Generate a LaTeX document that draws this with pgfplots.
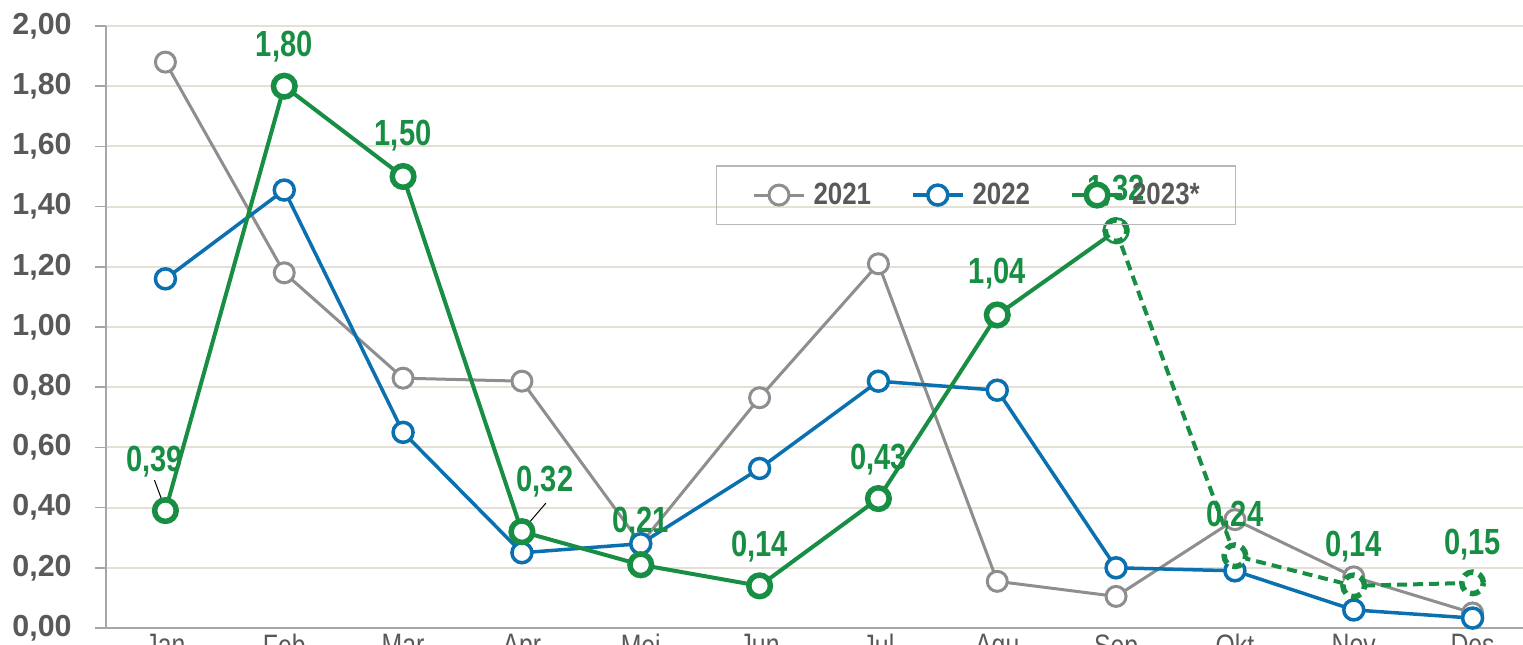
\documentclass[border=0pt]{standalone}
\usepackage{pgfplots}
\pgfplotsset{compat=1.18}
\usepackage{pgfplotstable}
\usepackage{fontspec}
\setmainfont{Liberation Sans}
\newfontfamily\lblfont{Liberation Sans}[FakeStretch=0.8]
\newfontfamily\legfont{Liberation Sans}[FakeStretch=0.84]
\definecolor{c21}{HTML}{8E8E8E}
\definecolor{c22}{HTML}{0A70B0}
\definecolor{c23}{HTML}{178E43}
\definecolor{tickgray}{HTML}{595959}
\definecolor{gridc}{HTML}{E4E0D5}
\definecolor{axgray}{HTML}{A6A6A6}

\pgfplotstableread{
x y
0 1.88
1 1.18
2 0.83
3 0.82
4 0.28
5 0.765
6 1.21
7 0.155
8 0.105
9 0.36
10 0.17
11 0.05
}\dataA

\pgfplotstableread{
x y
0 1.16
1 1.455
2 0.65
3 0.25
4 0.28
5 0.53
6 0.82
7 0.79
8 0.20
9 0.19
10 0.06
11 0.033
}\dataB

\pgfplotstableread{
x y lbl dx dy
0 0.39 {0,39} -5.5 19.75
1 1.80 {1,80} 0 15
2 1.50 {1,50} 0 15.75
3 0.32 {0,32} 11.5 20.25
4 0.21 {0,21} 0 16.25
5 0.14 {0,14} 0 14.75
6 0.43 {0,43} 0 14.75
7 1.04 {1,04} 0 15.75
8 1.32 {1,32} 0 15.25
}\dataC

\pgfplotstableread{
x y lbl dx dy
8 1.32 {} 0 15.25
9 0.24 {0,24} 0 14.75
10 0.14 {0,14} 0 14.75
11 0.15 {0,15} 0 14.25
}\dataD

\begin{document}
\begin{tikzpicture}
\begin{axis}[
  at={(53pt,8pt)}, anchor=south west,
  scale only axis, width=713pt, height=301pt,
  xmin=-0.5, xmax=11.5, ymin=0, ymax=2,
  clip=false,
  axis lines=left, axis line style={-, draw=axgray, line width=0.75pt},
  xtick={0,1,2,3,4,5,6,7,8,9,10,11},
  xticklabels={Jan,Feb,Mar,Apr,Mei,Jun,Jul,Agu,Sep,Okt,Nov,Des},
  x tick style={draw=none},
  ytick={0,0.2,0.4,0.6,0.8,1,1.2,1.4,1.6,1.8,2},
  y tick style={draw=axgray, line width=0.75pt},
  tick align=outside, major tick length=5.5pt,
  ymajorgrids, major grid style={draw=gridc, line width=1pt},
  y tick label style={/pgf/number format/fixed, /pgf/number format/fixed zerofill, /pgf/number format/precision=2, /pgf/number format/use comma, /pgf/number format/assume math mode=true},
  yticklabel style={font=\bfseries\fontsize{15.2}{18}\selectfont, text=tickgray, anchor=east, inner sep=0pt, xshift=-11.5pt},
  xticklabel style={font=\lblfont\fontsize{15.5}{18}\selectfont, text=tickgray, anchor=north, inner sep=0pt, yshift=2.5pt},
  legend columns=3,
  legend image code/.code={\draw[mark repeat=2,mark phase=2] plot coordinates {(0pt,0pt) (12.5pt,0pt) (25pt,0pt)};},
  legend style={at={(0.4276,0.769)}, anchor=north west, draw=axgray!80, line width=0.75pt, fill=none,
    font=\legfont\bfseries\fontsize{15.4}{18}\selectfont, text=tickgray, inner xsep=18pt, inner ysep=8.5pt,
    nodes={inner sep=0pt},
    /tikz/every odd column/.append style={column sep=4pt},
    /tikz/every even column/.append style={column sep=20pt}},
]
\addplot[c21, line width=1.5pt, mark=*, mark size=5pt, mark options={fill=white, line width=1.5pt}] table[x=x,y=y]{\dataA};
\addlegendentry{2021}
\addplot[c22, line width=1.75pt, mark=*, mark size=5pt, mark options={fill=white, line width=1.75pt}] table[x=x,y=y]{\dataB};
\addlegendentry{2022}
\addplot[c23, line width=2pt, mark=*, mark size=5.4pt, mark options={fill=white, line width=2.75pt},
  point meta=explicit symbolic, nodes near coords,
  visualization depends on={\thisrow{dx}\as\dx},
  visualization depends on={\thisrow{dy}\as\dy},
  every node near coord/.append style={anchor=base, inner sep=0pt, xshift=\dx pt, yshift=\dy pt,
    font=\lblfont\bfseries\fontsize{18.2}{21}\selectfont, text=c23}] table[x=x,y=y,meta=lbl]{\dataC};
\addlegendentry{2023*}
\addplot[c23, line width=2pt, dash pattern=on 5pt off 3pt, mark=*, mark size=5.4pt, mark options={fill=white, line width=2.75pt}, forget plot,
  point meta=explicit symbolic, nodes near coords,
  visualization depends on={\thisrow{dx}\as\dx},
  visualization depends on={\thisrow{dy}\as\dy},
  every node near coord/.append style={anchor=base, inner sep=0pt, xshift=\dx pt, yshift=\dy pt,
    font=\lblfont\bfseries\fontsize{18.2}{21}\selectfont, text=c23}] table[x=x,y=y,meta=lbl]{\dataD};
\draw[black, line width=0.5pt] (axis cs:-0.0925,0.4917) -- (axis cs:-0.008,0.402);
\draw[black, line width=0.5pt] (axis cs:3.2018,0.415) -- (axis cs:3.008,0.3256);
\end{axis}
\pgfresetboundingbox
\path[use as bounding box] (0,0) rectangle (761.5pt,322pt);
\end{tikzpicture}
\end{document}
